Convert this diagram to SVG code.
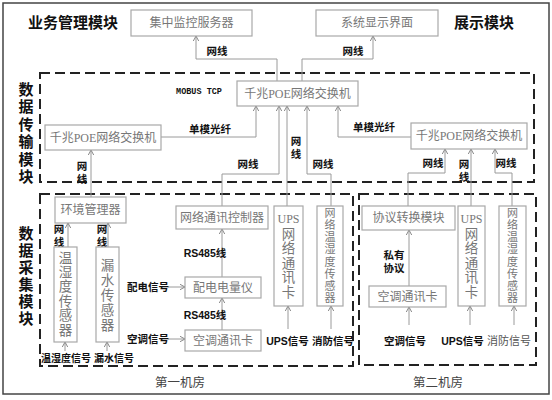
<svg xmlns="http://www.w3.org/2000/svg" width="552" height="400" viewBox="0 0 552 400">
<style>
text{font-family:"Liberation Sans","Noto Sans CJK SC",sans-serif;dominant-baseline:central;text-anchor:middle}
.bx{fill:#fff;stroke:#a8a8a8;stroke-width:1.2}
.bt{font-family:"Liberation Serif","Noto Sans CJK SC",serif;font-size:12px;fill:#777}
.vt{font-family:"Liberation Serif","Noto Sans CJK SC",serif;font-size:13.5px;fill:#777}
.vs{font-family:"Liberation Serif","Noto Sans CJK SC",serif;font-size:11px;fill:#777}
.lb{font-size:10.5px;font-weight:bold;fill:#111}
.sg{font-size:10px;font-weight:bold;fill:#111}
.md{font-size:15px;font-weight:bold;fill:#111}
.rm{font-family:"Liberation Serif","Noto Sans CJK SC",serif;font-size:12.5px;fill:#444}
.dash{fill:none;stroke:#222;stroke-width:2;stroke-dasharray:10,5}
.ln{fill:none;stroke:#9a9a9a;stroke-width:1;marker-end:url(#ah)}
</style>
<defs>
<marker id="ah" markerUnits="userSpaceOnUse" markerWidth="7" markerHeight="7" refX="5" refY="3" orient="auto">
<path d="M0,0.3 L5,3 L0,5.7" fill="none" stroke="#888" stroke-width="1"/>
</marker>
</defs>
<rect x="0" y="0" width="552" height="400" fill="#fff"/>
<rect x="3" y="3" width="546" height="391" fill="none" stroke="#444" stroke-width="1.5"/>

<g id="frames">
<rect class="dash" x="40" y="73" width="494" height="109"/>
<rect class="dash" x="40" y="194" width="313" height="172"/>
<rect class="dash" x="359" y="194" width="177" height="171"/>
</g>

<g id="module-labels">
<text class="md" x="73" y="22">业务管理模块</text>
<text class="md" x="484" y="22">展示模块</text>
<text class="md" x="26" y="89">数</text><text class="md" x="26" y="106.5">据</text><text class="md" x="26" y="124">传</text><text class="md" x="26" y="141.5">输</text><text class="md" x="26" y="159">模</text><text class="md" x="26" y="176.5">块</text>
<text class="md" x="26" y="233">数</text><text class="md" x="26" y="250">据</text><text class="md" x="26" y="267">采</text><text class="md" x="26" y="284">集</text><text class="md" x="26" y="301">模</text><text class="md" x="26" y="318">块</text>
<text class="rm" x="180" y="383">第一机房</text>
<text class="rm" x="438" y="383">第二机房</text>
</g>

<g id="connectors">
<path class="ln" d="M277,81 V59 H196 V36"/>
<path class="ln" d="M302,81 V59 H373 V36"/>
<path class="ln" d="M161,137 H256 V106"/>
<path class="ln" d="M411,137 H338 V106"/>
<path class="ln" d="M222,206 V174 H279 V106"/>
<path class="ln" d="M287,206 V106"/>
<path class="ln" d="M331,206 V174 H307 V106"/>
<path class="ln" d="M408,206 V173 H445 V149"/>
<path class="ln" d="M471,206 V149"/>
<path class="ln" d="M512,206 V173 H495 V149"/>
<path class="ln" d="M91,197 V150"/>
<path class="ln" d="M68,247 V223"/>
<path class="ln" d="M108,247 V223"/>
<path class="ln" d="M65,351 V342"/>
<path class="ln" d="M107,351 V342"/>
<path class="ln" d="M222,277 V229"/>
<path class="ln" d="M222,330 V298"/>
<path class="ln" d="M168,287 H185"/>
<path class="ln" d="M168,339 H185"/>
<path class="ln" d="M288,329 V306"/>
<path class="ln" d="M331,329 V306"/>
<path class="ln" d="M409,286 V230"/>
<path class="ln" d="M409,325 V307"/>
<path class="ln" d="M470,325 V306"/>
<path class="ln" d="M514,325 V306"/>
<text class="lb" x="217" y="51">网线</text>
<text class="lb" x="353" y="51">网线</text>
<text style="font-family:'Liberation Mono',monospace;font-size:8.5px;font-weight:bold;fill:#111" x="199" y="92">MOBUS TCP</text>
<text class="lb" x="210" y="129">单模光纤</text>
<text class="lb" x="374" y="127">单模光纤</text>
<text class="lb" x="248" y="164">网线</text>
<text class="lb" x="296" y="141">网</text><text class="lb" x="296" y="154">线</text>
<text class="lb" x="323" y="164">网线</text>
<text class="lb" x="433" y="163">网线</text>
<text class="lb" x="464" y="164">网</text><text class="lb" x="464" y="177">线</text>
<text class="lb" x="506" y="163">网线</text>
<text class="lb" x="82" y="166">网</text><text class="lb" x="82" y="179">线</text>
<text class="lb" x="59" y="229">网</text><text class="lb" x="59" y="242">线</text>
<text class="lb" x="102" y="229">网</text><text class="lb" x="102" y="242">线</text>
<text class="lb" x="205" y="253">RS485线</text>
<text class="lb" x="205" y="315">RS485线</text>
<text class="lb" x="394" y="255">私有</text><text class="lb" x="394" y="268">协议</text>
</g>

<g id="server"><rect class="bx" x="131" y="10" width="121" height="26"/><text class="bt" x="191.5" y="23">集中监控服务器</text></g>
<g id="display"><rect class="bx" x="316" y="10" width="122" height="26"/><text class="bt" x="377" y="23">系统显示界面</text></g>
<g id="core-switch"><rect class="bx" x="237" y="81" width="121" height="25"/><text class="bt" x="297.5" y="93.5">千兆POE网络交换机</text></g>
<g id="switch-1"><rect class="bx" x="45" y="125" width="116" height="25"/><text class="bt" x="103" y="137.5">千兆POE网络交换机</text></g>
<g id="switch-2"><rect class="bx" x="411" y="123" width="116" height="26"/><text class="bt" x="469" y="136">千兆POE网络交换机</text></g>

<g id="env-manager"><rect class="bx" x="55" y="197" width="71" height="26"/><text class="bt" x="90.5" y="210">环境管理器</text></g>
<g id="th-sensor"><rect class="bx" x="54" y="247" width="23" height="95"/>
<text class="vt" x="65.5" y="258">温</text><text class="vt" x="65.5" y="272.4">湿</text><text class="vt" x="65.5" y="286.8">度</text><text class="vt" x="65.5" y="301.2">传</text><text class="vt" x="65.5" y="315.6">感</text><text class="vt" x="65.5" y="330">器</text></g>
<g id="leak-sensor"><rect class="bx" x="96" y="247" width="23" height="95"/>
<text class="vt" x="107.5" y="265">漏</text><text class="vt" x="107.5" y="280">水</text><text class="vt" x="107.5" y="295">传</text><text class="vt" x="107.5" y="310">感</text><text class="vt" x="107.5" y="325">器</text></g>
<g id="sig-th"><text class="sg" x="66" y="358">温湿度信号</text></g>
<g id="sig-leak"><text class="sg" x="114" y="358">漏水信号</text></g>

<g id="net-controller"><rect class="bx" x="176" y="206" width="92" height="23"/><text class="bt" x="222" y="217.5">网络通讯控制器</text></g>
<g id="power-meter"><rect class="bx" x="185" y="277" width="76" height="21"/><text class="bt" x="223" y="287.5">配电电量仪</text></g>
<g id="ac-card-1"><rect class="bx" x="185" y="330" width="76" height="21"/><text class="bt" x="223" y="340.5">空调通讯卡</text></g>
<g id="sig-power"><text class="lb" x="148" y="287">配电信号</text></g>
<g id="sig-ac-1"><text class="lb" x="148" y="339">空调信号</text></g>

<g id="ups-card-1"><rect class="bx" x="274" y="206" width="29" height="100"/>
<text class="vt" x="288.5" y="219" style="font-size:12px">UPS</text><text class="vt" x="288.5" y="234">网</text><text class="vt" x="288.5" y="248.5">络</text><text class="vt" x="288.5" y="263">通</text><text class="vt" x="288.5" y="277.5">讯</text><text class="vt" x="288.5" y="292">卡</text></g>
<g id="sig-ups-1"><text class="lb" x="287.5" y="341">UPS信号</text></g>
<g id="net-th-1"><rect class="bx" x="317" y="206" width="26" height="100"/>
<text class="vs" x="330" y="213">网</text><text class="vs" x="330" y="225.1">络</text><text class="vs" x="330" y="237.3">温</text><text class="vs" x="330" y="249.4">湿</text><text class="vs" x="330" y="261.6">度</text><text class="vs" x="330" y="273.7">传</text><text class="vs" x="330" y="285.9">感</text><text class="vs" x="330" y="298">器</text></g>
<g id="sig-fire-1"><text class="lb" x="333" y="341">消防信号</text></g>

<g id="protocol-conv"><rect class="bx" x="362" y="206" width="93" height="24"/><text class="bt" x="408.5" y="218">协议转换模块</text></g>
<g id="ac-card-2"><rect class="bx" x="369" y="286" width="77" height="21"/><text class="bt" x="407.5" y="296.5">空调通讯卡</text></g>
<g id="sig-ac-2"><text class="lb" x="405" y="341">空调信号</text></g>
<g id="ups-card-2"><rect class="bx" x="458" y="206" width="27" height="100"/>
<text class="vt" x="471.5" y="219" style="font-size:12px">UPS</text><text class="vt" x="471.5" y="234">网</text><text class="vt" x="471.5" y="248.5">络</text><text class="vt" x="471.5" y="263">通</text><text class="vt" x="471.5" y="277.5">讯</text><text class="vt" x="471.5" y="292">卡</text></g>
<g id="sig-ups-2"><text class="lb" x="462.5" y="341">UPS信号</text></g>
<g id="net-th-2"><rect class="bx" x="499" y="206" width="27" height="100"/>
<text class="vs" x="512.5" y="213">网</text><text class="vs" x="512.5" y="225.1">络</text><text class="vs" x="512.5" y="237.3">温</text><text class="vs" x="512.5" y="249.4">湿</text><text class="vs" x="512.5" y="261.6">度</text><text class="vs" x="512.5" y="273.7">传</text><text class="vs" x="512.5" y="285.9">感</text><text class="vs" x="512.5" y="298">器</text></g>
<g id="sig-fire-2"><text style="font-family:'Liberation Serif','Noto Sans CJK SC',serif;font-size:11px;fill:#555" x="509" y="341">消防信号</text></g>
</svg>
